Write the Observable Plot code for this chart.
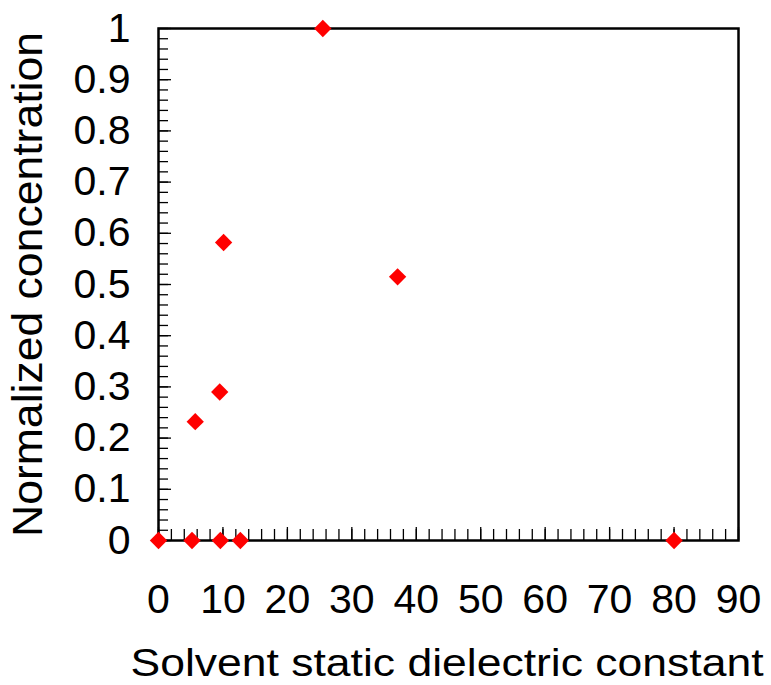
<!DOCTYPE html>
<html>
<head>
<meta charset="utf-8">
<script src="https://cdn.jsdelivr.net/npm/d3@7"></script>
<script src="https://cdn.jsdelivr.net/npm/@observablehq/plot@0.6"></script>
<style>
  html, body { margin: 0; padding: 0; background: #fff; }
</style>
</head>
<body>
<div id="chart"></div>
<script>
// Solvent static dielectric constant vs. normalized concentration
const dielectric = [0, 5.2, 5.7, 9.5, 9.6, 10.1, 12.7, 25.5, 37.1, 80];
const concentration = [0, 0, 0.232, 0.29, 0, 0.582, 0, 1.0, 0.515, 0];

const xTicks = [0, 10, 20, 30, 40, 50, 60, 70, 80, 90];
const xTickLabels = ["0", "10", "20", "30", "40", "50", "60", "70", "80", "90"];
const yTicks = [0, 0.1, 0.2, 0.3, 0.4, 0.5, 0.6, 0.7, 0.8, 0.9, 1];
const yTickLabels = ["0", "0.1", "0.2", "0.3", "0.4", "0.5", "0.6", "0.7", "0.8", "0.9", "1"];
const xMinor = d3.range(0, 91, 2);
const yMinor = d3.range(0, 51).map(i => i / 50);

const xTitle = "Solvent static dielectric constant";
const yTitle = "Normalized concentration";

const points = dielectric.map((d, i) => ({x: d, y: concentration[i]}));

const font = "Liberation Sans, Arial, Helvetica, sans-serif";

const chart = Plot.plot({
  width: 771,
  height: 685,
  marginTop: 28,
  marginRight: 33,
  marginBottom: 145,
  marginLeft: 158,
  style: {fontFamily: font, fontSize: "41px", background: "#fff", color: "#000"},
  x: {domain: [0, 90]},
  y: {domain: [0, 1]},
  marks: [
    // inward tick marks on the bottom and left edges
    Plot.axisX(xMinor, {anchor: "bottom", tickSize: -11, fill: "none", stroke: "#000", strokeWidth: 1.3, label: null}),
    Plot.axisX(xTicks, {anchor: "bottom", tickSize: -13, fill: "none", stroke: "#000", strokeWidth: 1.3, label: null}),
    Plot.axisY(yMinor, {anchor: "left", tickSize: -10, fill: "none", stroke: "#000", strokeWidth: 1.3, label: null}),
    Plot.axisY(yTicks, {anchor: "left", tickSize: -13, fill: "none", stroke: "#000", strokeWidth: 1.3, label: null}),
    // tick labels
    Plot.text(xTicks, {x: d => d, text: (d, i) => xTickLabels[i], frameAnchor: "bottom",
      lineAnchor: "top", dy: 43, fontSize: 41, fill: "#000"}),
    Plot.text(yTicks, {y: d => d, text: (d, i) => yTickLabels[i], frameAnchor: "left",
      textAnchor: "end", lineAnchor: "middle", dx: -28, fontSize: 41, fill: "#000"}),
    // axis titles
    Plot.text([xTitle], {text: d => d, frameAnchor: "bottom", textAnchor: "middle", lineAnchor: "middle",
      dy: 123, dx: -1.5, fontSize: 38, fill: "#000", className: "x-title"}),
    Plot.text([yTitle], {text: d => d, frameAnchor: "left", rotate: -90, textAnchor: "middle",
      lineAnchor: "middle", dx: -130, fontSize: 42, fill: "#000", className: "y-title"}),
    Plot.frame({stroke: "#000", strokeWidth: 2.5}),
    Plot.dot(points, {x: "x", y: "y", symbol: "diamond2", r: 7.8, fill: "#ff0000", stroke: "none"})
  ]
});

document.getElementById("chart").append(chart);

// stretch the axis titles across their spans
d3.select(chart).selectAll(".x-title text").attr("textLength", 633).attr("lengthAdjust", "spacingAndGlyphs");
d3.select(chart).selectAll(".y-title text").attr("textLength", 505).attr("lengthAdjust", "spacingAndGlyphs");
</script>
</body>
</html>
